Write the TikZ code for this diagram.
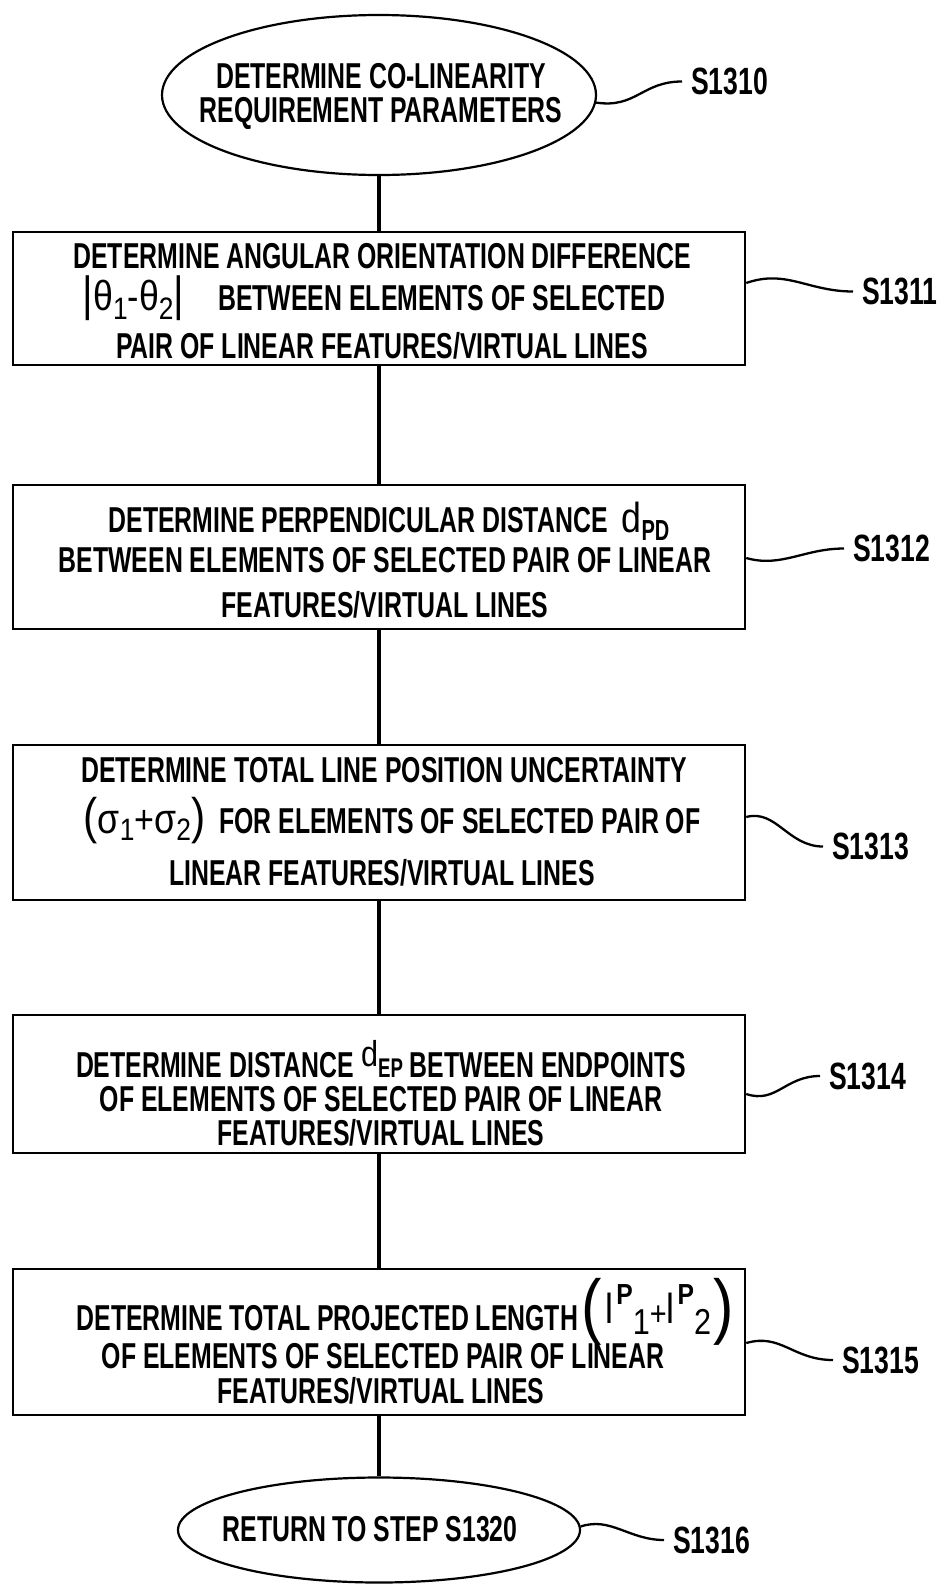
\documentclass[tikz,border=0pt]{standalone}
\usepackage{fontspec}
\setmainfont{Liberation Sans}[FakeStretch=0.69]
\newfontfamily\labfont{Liberation Sans}[FakeStretch=0.70]
\newfontfamily\thinfont{Liberation Sans}[FakeStretch=0.85]
\usetikzlibrary{shapes.geometric,calc}

% thin glyph at a given size (symbols inside the step texts)
\newcommand\tf[2]{{\thinfont\mdseries\fontsize{#1}{#1}\selectfont #2}}
\newcommand\tfb[2]{{\thinfont\bfseries\fontsize{#1}{#1}\selectfont #2}}

\tikzset{
  box/.style={draw, line width=2.5pt, minimum width=732pt, inner sep=0pt},
  oval/.style={draw, ellipse, line width=2.2pt, inner sep=0pt},
  txt/.style={inner sep=0pt, anchor=base, font=\bfseries\fontsize{36}{36}\selectfont},
  lab/.style={inner xsep=9pt, inner ysep=0pt, anchor=west,
              font=\labfont\bfseries\fontsize{38}{38}\selectfont},
  spine/.style={line width=3.5pt},
  wavy/.style={line width=2.3pt},
}

\begin{document}
\begin{tikzpicture}[x=1pt, y=-1pt]
\useasboundingbox (0,0) rectangle (943,1585);

% ---- outline shapes ----
\node[oval, minimum width=434pt, minimum height=160pt] (e1) at (379,95) {};
\node[box, minimum height=133pt] (b1) at (379,298.5) {};
\node[box, minimum height=144pt] (b2) at (379,557) {};
\node[box, minimum height=155pt] (b3) at (379,822.5) {};
\node[box, minimum height=138pt] (b4) at (379,1084) {};
\node[box, minimum height=146pt] (b5) at (379,1342) {};
\node[oval, minimum width=402pt, minimum height=105pt] (e2) at (379,1530) {};

% ---- texts ----
\node[txt] (t01) at (381,88) {DETERMINE CO-LINEARITY};
\node[txt] (t02) at (381,122) {REQUIREMENT PARAMETERS};

\node[txt] (t11) at (382,268) {DETERMINE ANGULAR ORIENTATION DIFFERENCE};
\node[txt] (t12) at (374,310) {\tf{48}{|}\tf{42}{θ}\raisebox{-9pt}{\tf{31}{1}}\tf{40}{-}\tf{42}{θ}\raisebox{-9pt}{\tf{31}{2}}\tf{48}{|}\hspace{34pt}BETWEEN ELEMENTS OF SELECTED};
\node[txt] (t13) at (382,358) {PAIR OF LINEAR FEATURES/VIRTUAL LINES};

\node[txt] (t21) at (389,532) {DETERMINE PERPENDICULAR DISTANCE\hspace{14pt}\tf{42}{d}\raisebox{-8pt}{\fontsize{29}{29}\selectfont PD}};
\node[txt] (t22) at (385,572) {BETWEEN ELEMENTS OF SELECTED PAIR OF LINEAR};
\node[txt] (t23) at (385,617) {FEATURES/VIRTUAL LINES};

\node[txt] (t31) at (384,782) {DETERMINE TOTAL LINE POSITION UNCERTAINTY};
\node[txt] (t32) at (392,833) {\tf{50}{(}\tf{42}{σ}\raisebox{-7pt}{\tf{31}{1}}\tf{40}{+}\tf{42}{σ}\raisebox{-7pt}{\tf{31}{2}}\tf{50}{)}\hspace{14pt}FOR ELEMENTS OF SELECTED PAIR OF};
\node[txt] (t33) at (382,885) {LINEAR FEATURES/VIRTUAL LINES};

\node[txt] (t41) at (381,1077) {DETERMINE DISTANCE \raisebox{11pt}{\tf{36}{d}}{\fontsize{27}{27}\selectfont EP} BETWEEN ENDPOINTS};
\node[txt] (t42) at (381,1111) {OF ELEMENTS OF SELECTED PAIR OF LINEAR};
\node[txt] (t43) at (381,1145) {FEATURES/VIRTUAL LINES};

\node[txt] (t51) at (405,1330) {DETERMINE TOTAL PROJECTED LENGTH\hspace{3pt}\tf{72}{(}\hspace{4pt}\raisebox{7pt}{\tf{42}{l}}\hspace{3pt}\raisebox{26pt}{\tfb{29}{P}}\raisebox{-4pt}{\tf{36}{1}}\raisebox{5pt}{\tf{34}{+}}\raisebox{7pt}{\tf{42}{l}}\hspace{3pt}\raisebox{26pt}{\tfb{29}{P}}\raisebox{-4pt}{\tf{36}{2}}\hspace{2pt}\tf{72}{)}};
\node[txt] (t52) at (383,1368) {OF ELEMENTS OF SELECTED PAIR OF LINEAR};
\node[txt] (t53) at (381,1403) {FEATURES/VIRTUAL LINES};

\node[txt] (t61) at (370,1541) {RETURN TO STEP S1320};

% ---- step labels ----
\node[lab] (l0) at (682,81.5) {S1310};
\node[lab] (l1) at (853,291.5) {S1311};
\node[lab] (l2) at (844,548.5) {S1312};
\node[lab] (l3) at (823,846.5) {S1313};
\node[lab] (l4) at (820,1076) {S1314};
\node[lab] (l5) at (833,1360) {S1315};
\node[lab] (l6) at (664,1540) {S1316};

% ---- flow spine ----
\draw[spine] (e1.south) -- (b1.north);
\draw[spine] (b1.south) -- (b2.north);
\draw[spine] (b2.south) -- (b3.north);
\draw[spine] (b3.south) -- (b4.north);
\draw[spine] (b4.south) -- (b5.north);
\draw[spine] (b5.south) -- (e2.north);

% ---- wavy leaders to the step labels ----
\draw[wavy] (e1.-2.5) .. controls +(40,6) and +(-40,0) .. (l0.west);
\draw[wavy] ($(b1.east)+(0,-15.5)$) .. controls +(40,-14) and +(-45,0) .. (l1.west);
\draw[wavy] ($(b2.east)+(0,1)$) .. controls +(35,10) and +(-40,0) .. (l2.west);
\draw[wavy] ($(b3.east)+(0,-5.5)$) .. controls +(30,-8) and +(-35,0) .. (l3.west);
\draw[wavy] ($(b4.east)+(0,10)$) .. controls +(30,10) and +(-35,0) .. (l4.west);
\draw[wavy] ($(b5.east)+(0,1)$) .. controls +(35,-10) and +(-40,0) .. (l5.west);
\draw[wavy] (e2.1.5) .. controls +(30,-10) and +(-35,0) .. (l6.west);
\end{tikzpicture}
\end{document}
